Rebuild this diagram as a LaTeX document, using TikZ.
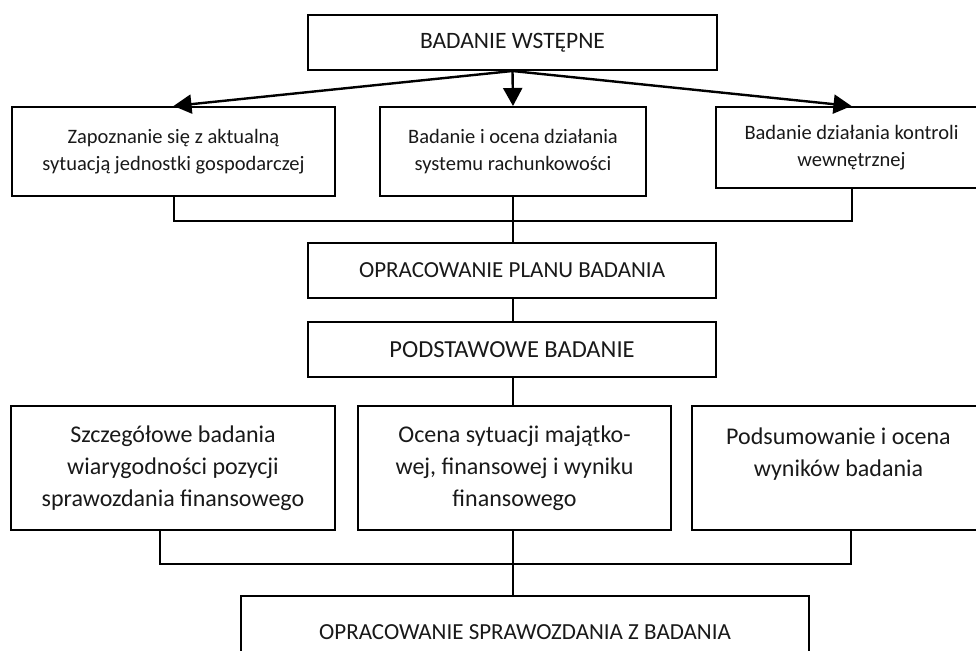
\documentclass[tikz,border=0pt]{standalone}
\usepackage{fontspec}
\setmainfont{Carlito}
\usetikzlibrary{arrows.meta}
\tikzset{
  stage/.style={draw, line width=2pt, rectangle, inner sep=0pt, align=center, text=black!90},
  headtxt/.style={font=\fontsize{23.5}{27}\selectfont},
  smalltxt/.style={font=\fontsize{20.5}{27}\selectfont},
  bigtxt/.style={font=\fontsize{24}{32}\selectfont},
  link/.style={line width=2pt},
  thinlink/.style={line width=1.6pt},
  arrowlink/.style={line width=2.4pt, -{Triangle[length=18pt,width=19pt]}}
}
\begin{document}
\begin{tikzpicture}[x=1pt,y=-1pt]
\path[use as bounding box, fill=white] (0,0) rectangle (976,650);
\clip (0,0) rectangle (976,650);

% preliminary stage
\node[stage, headtxt, minimum width=409pt, minimum height=55pt] (top) at (512.5,42.5) {BADANIE WSTĘPNE};
\node[stage, smalltxt, minimum width=323pt, minimum height=89pt] (l1) at (173.5,151.5)
  {Zapoznanie się z aktualną\\sytuacją jednostki gospodarczej};
\node[stage, smalltxt, minimum width=266pt, minimum height=89pt] (m1) at (513,151.5)
  {Badanie i ocena działania\\systemu rachunkowości};
\node[stage, smalltxt, minimum width=271pt, minimum height=81pt] (r1) at (851.5,147.5)
  {Badanie działania kontroli\\wewnętrznej};

% planning and main stage
\node[stage, headtxt, font=\fontsize{23}{27}\selectfont, minimum width=408pt, minimum height=55pt] (plan) at (512,270.5)
  {OPRACOWANIE PLANU BADANIA};
\node[stage, headtxt, font=\fontsize{24.5}{27}\selectfont, minimum width=408pt, minimum height=55pt] (main) at (512,349.5)
  {PODSTAWOWE BADANIE};

\node[stage, bigtxt, minimum width=324pt, minimum height=124pt] (l3) at (173,468)
  {Szczegółowe badania\\wiarygodności pozycji\\sprawozdania finansowego};
\node[stage, bigtxt, minimum width=313pt, minimum height=124pt] (m3) at (514.5,468)
  {Ocena sytuacji majątko-\\wej, finansowej i wyniku\\finansowego};
\node[stage, bigtxt, minimum width=293pt, minimum height=124pt] (r3) at (838.5,468)
  {Podsumowanie i ocena\\wyników badania\\\mbox{}};

% report
\node[stage, headtxt, font=\fontsize{23}{27}\selectfont, minimum width=568pt, minimum height=72pt] (rep) at (525,632)
  {OPRACOWANIE SPRAWOZDANIA Z BADANIA};

% arrows from the preliminary stage
\draw[arrowlink] (top.south) -- (l1.north);
\draw[arrowlink] (top.south) -- (m1.north);
\draw[arrowlink] (top.south) -- (r1.north);

% joining lines
\coordinate (j1) at (513,221);
\draw[link] (l1.south) |- (j1) -| (r1.south);
\draw[thinlink] (m1.south) -- (m1.south |- plan.north);
\draw[thinlink] (plan.south -| j1) -- (main.north -| j1);
\draw[thinlink] (main.south -| j1) -- (m3.north -| j1);

\coordinate (j2) at (513,564);
\draw[link] ([xshift=-13pt]l3.south) |- (j2) -| ([xshift=12.5pt]r3.south);
\draw[thinlink] (m3.south -| j2) -- (rep.north -| j2);
\end{tikzpicture}
\end{document}
